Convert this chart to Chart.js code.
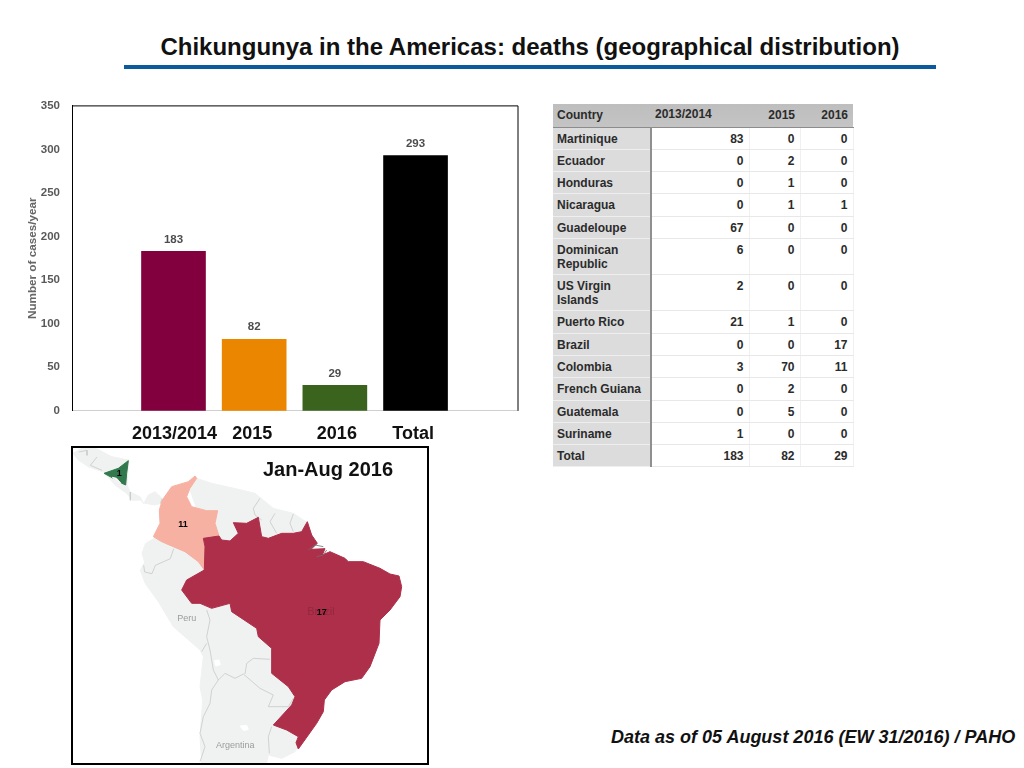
<!DOCTYPE html>
<html>
<head>
<meta charset="utf-8">
<title>Chikungunya in the Americas</title>
<script src="https://cdn.jsdelivr.net/npm/chart.js@4"></script>
<style>
html, body { margin: 0; padding: 0; background: #fff; overflow: hidden; }
body { width: 1024px; height: 768px; position: relative; font-family: "Liberation Sans", Arial, sans-serif; }
#title { position: absolute; left: 24px; width: 1012px; top: 33px; text-align: center; font-weight: bold; font-size: 24px; line-height: 28px; color: #111; white-space: nowrap; }
#rule { position: absolute; left: 124px; top: 64.5px; width: 812px; height: 4px; background: #0b5a9e; }
#barWrap { position: absolute; left: 20px; top: 87px; }
#mapBox { position: absolute; left: 71px; top: 446px; width: 354px; height: 315px; border: 2px solid #000; background: #fff; }
#mapTitle { position: absolute; left: 190px; top: 9px; font-weight: bold; font-size: 20px; line-height: 24px; color: #111; white-space: nowrap; }
#note { position: absolute; left: 611px; top: 727px; font-weight: bold; font-style: italic; font-size: 18px; line-height: 20px; color: #111; white-space: nowrap; }
#tbl { position: absolute; left: 553px; top: 104px; width: 300px; border-collapse: collapse; table-layout: fixed; font-size: 12px; line-height: 14px; font-weight: bold; color: #2b2b2b; }
#tbl td, #tbl th { padding: 4px 5px 0 4px; vertical-align: top; text-align: right; border-bottom: 1px solid #e8e8e8; border-right: 1px solid #f0f0f0; box-sizing: border-box; height: 22.3px; font-weight: bold; }
#tbl th { background: linear-gradient(#bebebe, #c4c4c4); border-bottom: 1px solid #8c8c8c; border-right: none; height: 23px; padding-top: 3.5px; }
#tbl th.y1 { text-align: left; padding-top: 3px; }
#tbl td:first-child, #tbl th:first-child { text-align: left; }
#tbl td:first-child { background: #dcdcdc; border-right: 2px solid #8f8f8f; border-bottom: 1px solid #eeeeee; }
#tbl tr.two td { height: 36.2px; }
</style>
</head>
<body>
<div id="title">Chikungunya in the Americas: deaths (geographical distribution)</div>
<div id="rule"></div>
<div id="barWrap"><canvas id="bars" width="505" height="363"></canvas></div>
<table id="tbl">
  <colgroup><col style="width:98px"><col style="width:98px"><col style="width:51px"><col style="width:53px"></colgroup>
  <thead id="tblHead"></thead>
  <tbody id="tblBody"></tbody>
</table>
<div id="mapBox">
  <canvas id="map" width="354" height="315"></canvas>
  <div id="mapTitle">Jan-Aug 2016</div>
</div>
<div id="note">Data as of 05 August 2016 (EW 31/2016) / PAHO</div>

<script>
// bar chart
const barLabels = ['2013/2014', '2015', '2016', 'Total'];
const barValues = [183, 82, 29, 293];
const barColors = ['#83003f', '#ea8600', '#3a631d', '#000000'];
const yTicks = [0, 50, 100, 150, 200, 250, 300, 350];
// the year labels sit a little off the bar centres in the original
const labelNudge = [0.012, -0.025, 0.025, -0.03];

// table
const tableHead = ['Country', '2013/2014', '2015', '2016'];
const countries = ['Martinique', 'Ecuador', 'Honduras', 'Nicaragua', 'Guadeloupe', 'Dominican Republic', 'US Virgin Islands',
    'Puerto Rico', 'Brazil', 'Colombia', 'French Guiana', 'Guatemala', 'Suriname', 'Total'];
const deaths1314 = [83, 0, 0, 0, 67, 6, 2, 21, 0, 3, 0, 0, 1, 183];
const deaths2015 = [0, 2, 1, 1, 0, 0, 0, 1, 0, 70, 2, 5, 0, 82];
const deaths2016 = [0, 0, 0, 1, 0, 0, 0, 0, 17, 11, 0, 0, 0, 29];

// map outlines in map grid units
const brazil = [[415,295],[462,288],[470,300],[495,303],[520,280],[505,248],[545,250],[580,232],[590,290],[610,295],[650,280],[685,280],[710,275],[727,245],[740,285],[757,310],[738,328],[780,326],[772,345],[795,335],[840,355],[850,365],[895,365],[945,385],[975,402],[1002,408],[1010,440],[1005,470],[975,510],[945,540],[942,610],[915,680],[890,715],[840,725],[800,750],[778,780],[775,815],[755,850],[730,885],[700,927],[693,908],[700,890],[665,870],[625,855],[680,795],[690,770],[670,740],[620,700],[620,625],[580,590],[575,565],[500,515],[495,490],[440,505],[405,490],[380,490],[350,450],[365,420],[418,390],[420,320]];
const colombia = [[265,290],[285,250],[283,210],[292,180],[320,140],[370,125],[390,108],[395,115],[375,145],[365,170],[380,200],[425,212],[458,212],[450,250],[462,288],[415,295],[420,330],[418,390],[400,365],[360,335],[320,318],[290,305]];
const nicaragua = [[117,100],[160,85],[190,62],[185,100],[182,135],[160,125],[145,115]];
const nicaraguaLake = [[142,112],[155,115],[168,130],[155,128]];
const centralAmerica = [[24,40],[50,25],[95,26],[140,50],[191,60],[186,135],[196,156],[226,171],[236,191],[250,165],[270,155],[291,175],[287,190],[270,195],[240,190],[225,180],[201,181],[186,161],[151,136],[116,96],[71,81],[41,61]];
const northCoast = [[375,150],[395,115],[440,130],[520,148],[570,160],[625,205],[685,220],[730,250],[725,290],[500,320],[440,290],[400,220]];
const westLand = [[266,296],[241,311],[231,341],[239,366],[226,391],[241,431],[280,485],[325,560],[365,595],[405,630],[415,650],[405,740],[413,780],[405,890],[410,969],[605,969],[610,945],[650,955],[690,935],[698,925],[800,600],[700,400],[500,320],[420,300]];
const lakeA = [[448,662],[462,660],[466,674],[452,678]];
const lakeB = [[525,858],[545,856],[550,868],[536,872]];
const borderLines = [
    [[425,510],[435,540],[425,590],[435,630],[445,690],[460,720]],
    [[410,635],[425,610]],
    [[460,720],[480,700],[510,715],[535,702],[585,745],[625,765],[610,800],[670,800],[685,775]],
    [[540,702],[545,670],[565,655],[615,658]],
    [[460,720],[440,750],[435,790],[415,830],[405,880],[420,920],[405,965]],
    [[620,860],[610,890],[613,940]],
    [[326,326],[316,356],[271,376],[261,401],[239,396],[236,376]],
    [[41,36],[66,31],[66,46]],
    [[96,51],[76,76],[111,91]],
    [[196,156],[196,181]],
    [[291,176],[286,191]],
    [[585,175],[565,205],[570,225],[590,240]],
    [[630,220],[615,245],[635,280]],
    [[685,222],[675,250],[685,275]]
];
const riverLines = [[[730,330],[750,315],[775,320]], [[755,350],[775,345],[785,330]]];
const mapLabels = ['Peru', 'Argentina', 'Brazil', '17', '11', '1'];
const mapLabelX = [365, 511, 768, 770, 354, 163];
const mapLabelY = [536, 916, 517, 517, 254, 100];

// header and body of the table
const headRow = document.createElement('tr');
tableHead.forEach((text, i) => {
    const th = document.createElement('th');
    th.textContent = text;
    if (i == 1) th.className = 'y1';
    headRow.appendChild(th);
});
document.getElementById('tblHead').appendChild(headRow);

const tblBody = document.getElementById('tblBody');
countries.forEach((name, i) => {
    const tr = document.createElement('tr');
    if (name.length > 15) tr.className = 'two';
    [name, deaths1314[i], deaths2015[i], deaths2016[i]].forEach(text => {
        const td = document.createElement('td');
        td.textContent = text;
        tr.appendChild(td);
    });
    tblBody.appendChild(tr);
});

// black frame on the top and right of the plot
const plotFrame = {
    id: 'plotFrame',
    afterDraw(chart) {
        const { ctx, chartArea: a } = chart;
        ctx.save();
        ctx.strokeStyle = '#000';
        ctx.lineWidth = 1;
        ctx.beginPath();
        ctx.moveTo(a.left, a.top);
        ctx.lineTo(a.right, a.top);
        ctx.lineTo(a.right, a.bottom);
        ctx.stroke();
        ctx.restore();
    }
};

// numbers above the bars
const barNumbers = {
    id: 'barNumbers',
    afterDatasetsDraw(chart) {
        const { ctx } = chart;
        ctx.save();
        ctx.font = 'bold 11.5px "Liberation Sans"';
        ctx.fillStyle = '#4d4d4d';
        ctx.textAlign = 'center';
        ctx.textBaseline = 'middle';
        chart.getDatasetMeta(0).data.forEach((bar, i) => {
            ctx.fillText(barValues[i], bar.x, bar.y - 12);
        });
        ctx.restore();
    }
};

new Chart(document.getElementById('bars'), {
    type: 'bar',
    data: {
        datasets: [{
            data: barValues.map((v, i) => ({ x: i, y: v })),
            backgroundColor: barColors,
            barThickness: 64
        }]
    },
    options: {
        responsive: false,
        animation: false,
        layout: { padding: { top: 11.4, right: 7, left: 0, bottom: 0 } },
        plugins: { legend: { display: false }, tooltip: { enabled: false } },
        scales: {
            x: {
                type: 'linear',
                offset: false,
                min: -1.258,
                max: 4.27,
                afterBuildTicks: scale => { scale.ticks = barLabels.map((l, i) => ({ value: i + labelNudge[i] })); },
                afterFit: scale => { scale.height = 39.3; },
                grid: { display: false, drawTicks: false },
                border: { color: '#cfcfcf', width: 1 },
                ticks: {
                    autoSkip: false,
                    maxRotation: 0,
                    padding: 13,
                    color: '#111',
                    font: { family: 'Liberation Sans', weight: 'bold', size: 18 },
                    callback: (value, index) => barLabels[index]
                }
            },
            y: {
                min: 0,
                max: 350,
                afterBuildTicks: scale => { scale.ticks = yTicks.map(v => ({ value: v })); },
                afterFit: scale => { scale.width = 52; },
                grid: { display: false, drawTicks: false },
                border: { color: '#000', width: 1 },
                ticks: {
                    padding: 12,
                    color: '#595959',
                    font: { family: 'Liberation Sans', weight: 'bold', size: 11.5 }
                },
                title: {
                    display: true,
                    text: 'Number of cases/year',
                    color: '#666',
                    padding: { top: 6, bottom: 0 },
                    font: { family: 'Liberation Sans', weight: 'bold', size: 11.7 }
                }
            }
        }
    },
    plugins: [plotFrame, barNumbers]
});

// the map is a scatter chart with filled outlines
const toPoints = outline => outline.map(p => ({ x: p[0], y: p[1] }));
const area = (outline, color) => ({
    data: toPoints(outline.concat([outline[0]])),
    showLine: true,
    fill: 'shape',
    backgroundColor: color,
    borderColor: color,
    borderWidth: 1,
    pointRadius: 0,
    tension: 0
});
const line = (path, color) => ({
    data: toPoints(path),
    showLine: true,
    fill: false,
    borderColor: color,
    borderWidth: 0.8,
    pointRadius: 0
});

// back to front
const mapLayers = [
    area(centralAmerica, '#f0f1f1'),
    area(northCoast, '#f0f1f1'),
    area(westLand, '#f0f1f1'),
    area(lakeA, '#ffffff'),
    area(lakeB, '#ffffff'),
    ...borderLines.map(path => line(path, '#c6caca')),
    area(colombia, '#f7b1a2'),
    area(nicaragua, '#327a4d'),
    area(nicaraguaLake, '#f4f4f4'),
    area(brazil, '#ad2f4a'),
    ...riverLines.map(path => line(path, '#6e6e6e'))
];
mapLayers.forEach((layer, i) => { layer.order = mapLayers.length - i; });

const mapText = {
    id: 'mapText',
    afterDatasetsDraw(chart) {
        const { ctx, scales } = chart;
        ctx.save();
        ctx.textAlign = 'center';
        ctx.textBaseline = 'middle';
        mapLabels.forEach((text, i) => {
            if (text == 'Peru' || text == 'Argentina') {
                ctx.font = '9px "Liberation Sans"';
                ctx.fillStyle = '#9a9d9d';
            } else if (text == 'Brazil') {
                ctx.font = '11px "Liberation Sans"';
                ctx.fillStyle = '#93283f';
            } else {
                ctx.font = 'bold 9px "Liberation Sans"';
                ctx.fillStyle = '#000';
            }
            ctx.fillText(text, scales.x.getPixelForValue(mapLabelX[i]), scales.y.getPixelForValue(mapLabelY[i]));
        });
        ctx.restore();
    }
};

new Chart(document.getElementById('map'), {
    type: 'scatter',
    data: { datasets: mapLayers },
    options: {
        responsive: false,
        animation: false,
        layout: { padding: 0 },
        plugins: { legend: { display: false }, tooltip: { enabled: false } },
        scales: {
            x: { type: 'linear', min: 24, max: 1086, display: false },
            y: { type: 'linear', min: 24, max: 969, reverse: true, display: false }
        }
    },
    plugins: [mapText]
});
</script>
</body>
</html>
